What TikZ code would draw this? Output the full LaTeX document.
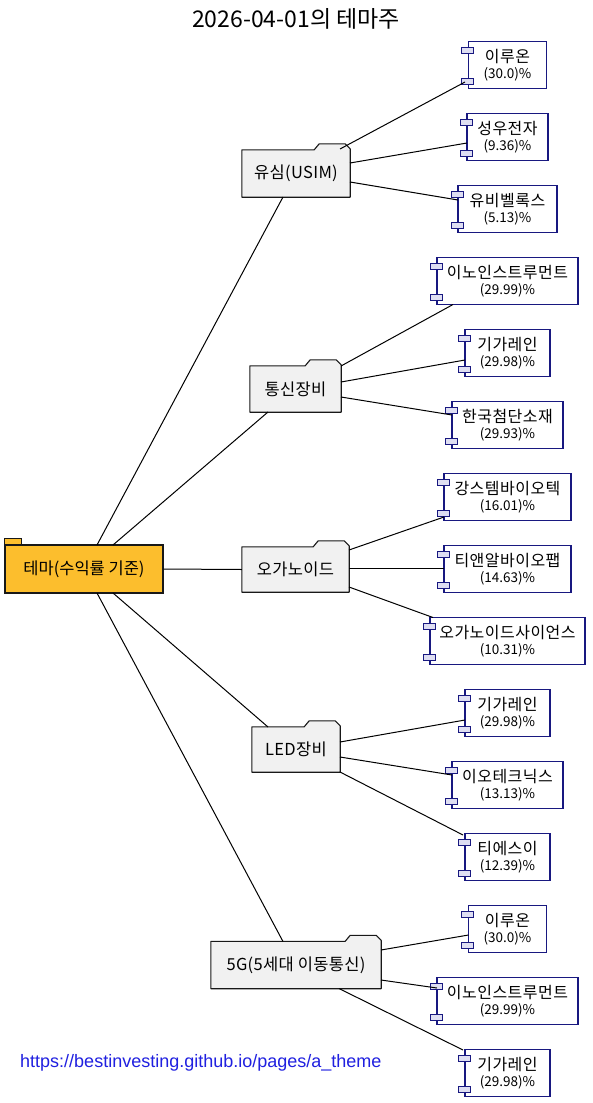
\documentclass[tikz,border=0pt]{standalone}
\usepackage{fontspec}
\setmainfont{Noto Sans CJK KR}
\newfontfamily\urlfont{Liberation Sans}
\usetikzlibrary{calc}
\definecolor{rootfill}{RGB}{252,190,45}
\definecolor{foldfill}{RGB}{241,241,241}
\definecolor{compline}{RGB}{24,24,128}
\definecolor{stubfill}{RGB}{222,222,242}
\definecolor{urlblue}{RGB}{32,32,224}
\definecolor{darkline}{RGB}{24,24,24}
\newcommand{\folderoutline}[1]{%
  \fill[foldfill] ($(#1.north east)+(-36,0.5)$) -- ($(#1.north east)+(-31,-6)$) -- ($(#1.north east)+(-5,-6)$) -- ($(#1.north east)+(0,-1)$) -- ($(#1.north east)+(0,0.5)$) -- cycle;
  \draw[foldline] (#1.north west) -- ($(#1.north east)+(-36,0)$) -- ($(#1.north east)+(-31,-6)$) -- ($(#1.north east)+(-5,-6)$) -- ($(#1.north east)+(0,-1)$) -- (#1.south east) -- (#1.south west) -- cycle;}
\newcommand{\compstubs}[1]{%
  \draw[stub] ($(#1.north west)+(-6,7)$) rectangle ($(#1.north west)+(6,12.5)$);
  \draw[stub] ($(#1.south west)+(-6,-10.5)$) rectangle ($(#1.south west)+(6,-5)$);}
\newcommand{\pct}[1]{\\{\fontsize{13.5}{15}\selectfont\addfontfeature{LetterSpace=0} #1}}
\begin{document}
\begin{tikzpicture}[x=1pt,y=-1pt,
  rootbox/.style={fill=rootfill, draw=darkline, line width=1.1pt, minimum height=48pt, minimum width=158pt, inner sep=0pt, font=\fontsize{16.5}{19}\selectfont},
  foldbox/.style={fill=foldfill, draw=none, minimum height=46pt, inner sep=0pt, font=\fontsize{16.5}{19}\selectfont\addfontfeature{LetterSpace=2}},
  foldline/.style={draw=darkline, line width=1.1pt, line join=round},
  compbox/.style={fill=white, draw=compline, line width=1.1pt, minimum height=47pt, inner sep=0pt, align=center, font=\fontsize{16}{15.5}\selectfont\addfontfeature{LetterSpace=3}},
  stub/.style={fill=stubfill, draw=compline, line width=1pt},
  edge/.style={draw=black, line width=1pt}]
\fill[white] (0,0) rectangle (592,1103);
\useasboundingbox (0,0) rectangle (592,1103);

\node[font=\fontsize{23}{26}\selectfont] (title) at (296,19) {2026-04-01의 테마주};
\node[font=\urlfont\fontsize{18}{20}\selectfont, text=urlblue, anchor=west, inner sep=0pt] (url) at (20,1063) {https://bestinvesting.github.io/pages/a\_theme};

% root
\node[rootbox] (R) at (84,569) {테마(수익률 기준)};
\draw[fill=rootfill, draw=darkline, line width=1.1pt] (R.north west) rectangle ($(R.north west)+(17,-6)$);

% folders
\node[foldbox, minimum width=108pt, minimum height=47pt] (f1) at (296,173.5) {유심(USIM)};
\folderoutline{f1}
\node[foldbox, minimum width=91pt] (f2) at (295.5,389) {통신장비};
\folderoutline{f2}
\node[foldbox, minimum width=107pt, minimum height=45pt] (f3) at (295.5,569.5) {오가노이드};
\folderoutline{f3}
\node[foldbox, minimum width=88pt, minimum height=45pt] (f4) at (296,749.5) {LED장비};
\folderoutline{f4}
\node[foldbox, minimum width=170pt, minimum height=47pt] (f5) at (296,965) {5G(5세대 이동통신)};
\folderoutline{f5}

% components
\node[compbox, minimum width=78pt] (c1) at (507.5,65) {이루온\pct{(30.0)\%}};
\node[compbox, minimum width=81pt] (c2) at (507.5,137) {성우전자\pct{(9.36)\%}};
\node[compbox, minimum width=99pt] (c3) at (507.5,209) {유비벨록스\pct{(5.13)\%}};
\node[compbox, minimum width=141pt] (c4) at (507.5,281) {이노인스트루먼트\pct{(29.99)\%}};
\node[compbox, minimum width=85pt] (c5) at (507.5,353) {기가레인\pct{(29.98)\%}};
\node[compbox, minimum width=111pt] (c6) at (507.5,425) {한국첨단소재\pct{(29.93)\%}};
\node[compbox, minimum width=127pt] (c7) at (507.5,497) {강스템바이오텍\pct{(16.01)\%}};
\node[compbox, minimum width=127pt] (c8) at (507.5,569) {티앤알바이오팹\pct{(14.63)\%}};
\node[compbox, minimum width=155pt] (c9) at (507.5,641) {오가노이드사이언스\pct{(10.31)\%}};
\node[compbox, minimum width=85pt] (c10) at (507.5,713) {기가레인\pct{(29.98)\%}};
\node[compbox, minimum width=111pt] (c11) at (507.5,785) {이오테크닉스\pct{(13.13)\%}};
\node[compbox, minimum width=85pt] (c12) at (507.5,857) {티에스이\pct{(12.39)\%}};
\node[compbox, minimum width=78pt] (c13) at (507.5,929) {이루온\pct{(30.0)\%}};
\node[compbox, minimum width=141pt] (c14) at (507.5,1001) {이노인스트루먼트\pct{(29.99)\%}};
\node[compbox, minimum width=85pt] (c15) at (507.5,1073) {기가레인\pct{(29.98)\%}};
\foreach \c in {c1,c2,c3,c4,c5,c6,c7,c8,c9,c10,c11,c12,c13,c14,c15} {\compstubs{\c}}

% edges root -> folders
\draw[edge] ($(R.center)+(13,-24)$) -- ($(f1.center)+(-13,23.5)$);
\draw[edge] ($(R.center)+(29,-24)$) -- ($(f2.center)+(-27.5,23)$);
\draw[edge] (R.east) -- (f3.west);
\draw[edge] ($(R.center)+(29,24)$) -- ($(f4.center)+(-28,-22.5)$);
\draw[edge] ($(R.center)+(13,24)$) -- ($(f5.center)+(-13,-23.5)$);

% edges folders -> components
\draw[edge] ($(f1.center)+(44,-24.5)$) -- ($(c1.center)+(-42.5,17)$);
\draw[edge] ($(f1.center)+(54,-10.5)$) -- ($(c2.center)+(-40.5,6)$);
\draw[edge] ($(f1.center)+(54,8.5)$) -- ($(c3.center)+(-49.5,-9)$);

\draw[edge] ($(f2.center)+(45.5,-23)$) -- ($(c4.center)+(-54.5,23.5)$);
\draw[edge] ($(f2.center)+(45.5,-7)$) -- ($(c5.center)+(-42.5,7)$);
\draw[edge] ($(f2.center)+(45.5,8)$) -- ($(c6.center)+(-55.5,-10)$);

\draw[edge] ($(f3.center)+(53.5,-19.5)$) -- ($(c7.center)+(-63.5,20)$);
\draw[edge] ($(f3.center)+(53.5,-1.5)$) -- ($(c8.center)+(-63.5,-1)$);
\draw[edge] ($(f3.center)+(53.5,17.5)$) -- ($(c9.center)+(-74.5,-23.5)$);

\draw[edge] ($(f4.center)+(44,-7.5)$) -- ($(c10.center)+(-42.5,7)$);
\draw[edge] ($(f4.center)+(44,7.5)$) -- ($(c11.center)+(-55.5,-10)$);
\draw[edge] ($(f4.center)+(44,22.5)$) -- ($(c12.center)+(-44.5,-22)$);

\draw[edge] ($(f5.center)+(85,-15)$) -- ($(c13.center)+(-39,6)$);
\draw[edge] ($(f5.center)+(85,15)$) -- ($(c14.center)+(-70.5,-13)$);
\draw[edge] ($(f5.center)+(43,23.5)$) -- ($(c15.center)+(-44.5,-23)$);
\end{tikzpicture}
\end{document}
